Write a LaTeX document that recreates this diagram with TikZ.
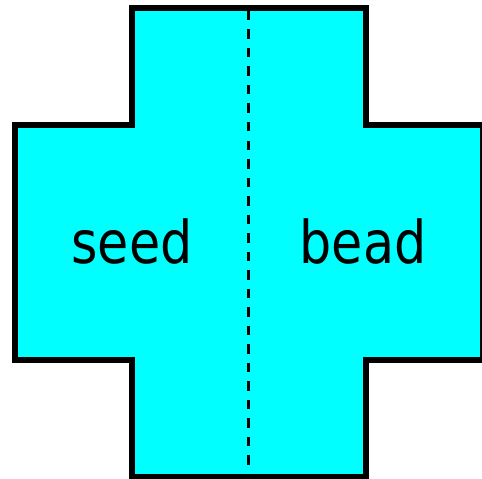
\documentclass[tikz,border=0pt]{standalone}
\usepackage{fontspec}
\setmainfont{DejaVu Sans}[FakeStretch=0.86]
\definecolor{crosscyan}{HTML}{00FFFF}
\tikzset{
  crossshape/.style={fill=crosscyan, draw=black, line width=6bp, line join=miter},
  foldline/.style={draw=black, line width=3bp, dash pattern=on 9.5bp off 9bp},
  word/.style={inner sep=0pt, anchor=base, font=\fontsize{59bp}{60bp}\selectfont}
}
\begin{document}
\begin{tikzpicture}[x=1bp,y=-1bp]
\useasboundingbox (0,0) rectangle (482,479);
\fill[crosscyan] (131.5,8) -- (365.5,8) -- (365.5,125) -- (482.5,125) -- (482.5,359.5) -- (365.5,359.5) -- (365.5,476.5) -- (131.5,476.5) -- (131.5,359.5) -- (14.5,359.5) -- (14.5,125) -- (131.5,125) -- cycle;
\coordinate (foldtop) at (248.3,11);
\coordinate (foldbot) at (248.3,476);
\draw[foldline] (foldtop) -- (foldbot);
\draw[crossshape, fill=none] (131.5,8) -- (365.5,8) -- (365.5,125) -- (482.5,125) -- (482.5,359.5) -- (365.5,359.5) -- (365.5,476.5) -- (131.5,476.5) -- (131.5,359.5) -- (14.5,359.5) -- (14.5,125) -- (131.5,125) -- cycle;
\node[word] (seed) at (132,263) {seed};
\node[word] (bead) at (363,263) {bead};
\end{tikzpicture}
\end{document}
